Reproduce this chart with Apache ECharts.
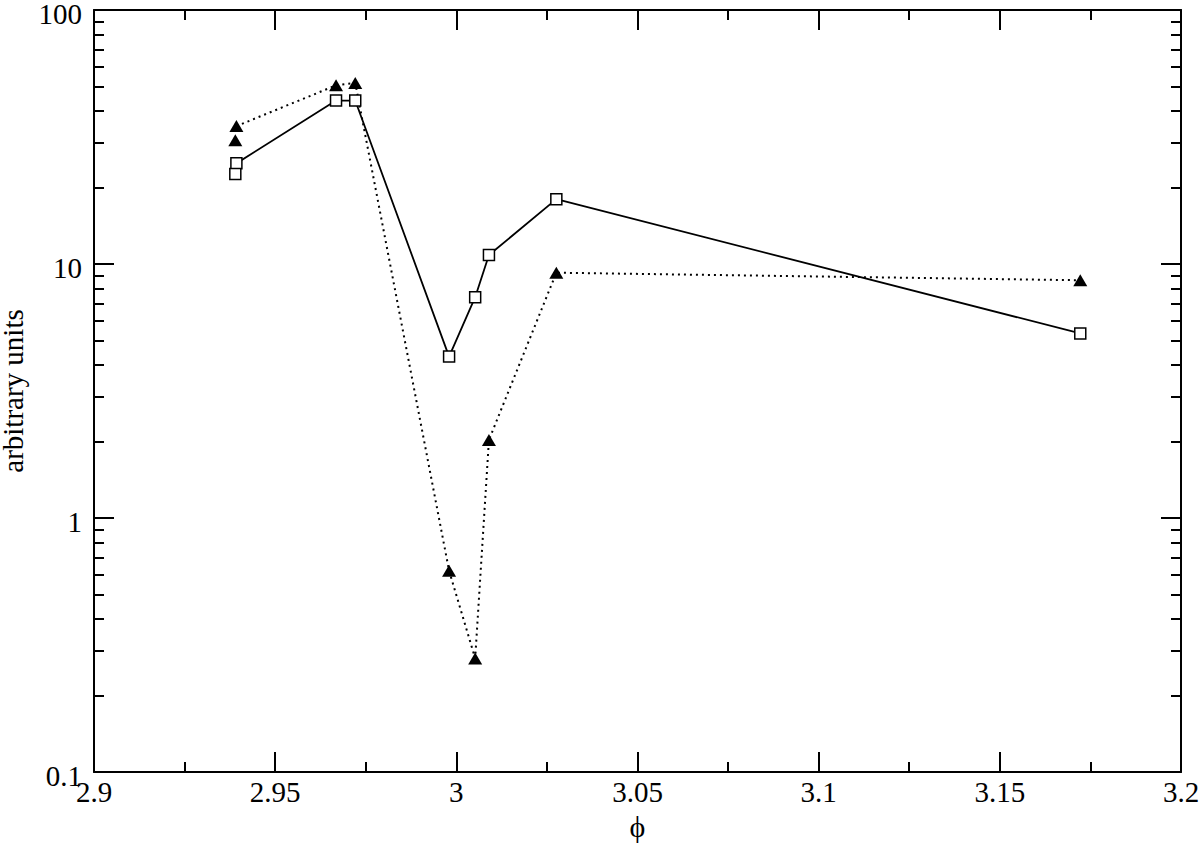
<!DOCTYPE html>
<html>
<head>
<meta charset="utf-8">
<script src="https://cdn.jsdelivr.net/npm/echarts@6/dist/echarts.min.js"></script>
<style>
html,body{margin:0;padding:0;background:#fff;}
#chart{width:1200px;height:844px;}
</style>
</head>
<body>
<div id="chart"></div>
<script>
// ---- data ----
const squareX = [2.9393, 2.9668, 2.9721, 2.9980, 3.0052, 3.0090, 3.0276, 3.1722];
const squareY = [24.9, 44.0, 44.0, 4.32, 7.4, 10.85, 18.0, 5.33];
const squareExtraX = [2.9390];
const squareExtraY = [22.6];
const triX = [2.9393, 2.9668, 2.9721, 2.9980, 3.0052, 3.0090, 3.0276, 3.1722];
const triY = [34.9, 50.5, 51.6, 0.62, 0.28, 2.03, 9.24, 8.63];
const triExtraX = [2.9390];
const triExtraY = [30.7];
const xTicks = ['2.9', '2.95', '3', '3.05', '3.1', '3.15', '3.2'];
const yTicks = ['0.1', '1', '10', '100'];
const yMinorTicks = [0.2,0.3,0.4,0.5,0.6,0.7,0.8,0.9,2,3,4,5,6,7,8,9,20,30,40,50,60,70,80,90];
const xName = 'ϕ';
const yName = 'arbitrary units';

const pairs = (xs, ys) => xs.map((x, i) => [x, ys[i]]);
const FONT = "'Liberation Serif', 'Times New Roman', serif";
const black = '#000';
const FS = 29;

const baseX = {
  type: 'value', min: 2.9, max: 3.2, interval: 0.05,
  axisLine: { show: true, lineStyle: { color: black, width: 2 } },
  axisTick: { show: true, inside: true, length: 20, lineStyle: { color: black, width: 2 } },
  minorTick: { show: true, splitNumber: 2, length: 10, lineStyle: { color: black, width: 2 } },
  splitLine: { show: false }, minorSplitLine: { show: false }
};
const baseY = {
  type: 'log', logBase: 10, min: 0.1, max: 100,
  axisLine: { show: true, lineStyle: { color: black, width: 2 } },
  axisTick: { show: true, inside: true, length: 20, lineStyle: { color: black, width: 2 } },
  splitLine: { show: false }
};
const minorY = {
  type: 'log', logBase: 10, min: 0.1, max: 100,
  axisLine: { show: false },
  axisLabel: { show: false },
  axisTick: { show: true, inside: true, length: 10, customValues: yMinorTicks, lineStyle: { color: black, width: 2 } },
  splitLine: { show: false }
};

const option = {
  backgroundColor: '#fff',
  animation: false,
  grid: { left: 94, right: 19, top: 10, bottom: 72, containLabel: false, outerBoundsMode: 'none' },
  xAxis: [
    Object.assign({}, baseX, {
      position: 'bottom',
      name: xName, nameLocation: 'middle', nameGap: 38,
      nameTextStyle: { color: black, fontFamily: "'Liberation Serif', 'DejaVu Serif', serif", fontSize: 30, lineHeight: 30 },
      axisLabel: {
        show: true, margin: 9, color: black, fontFamily: FONT, fontSize: FS, lineHeight: 22,
        formatter: (v) => { const i = Math.round((v - 2.9) / 0.05); return xTicks[i] !== undefined ? xTicks[i] : ''; }
      }
    }),
    Object.assign({}, baseX, { position: 'top', axisLabel: { show: false } })
  ],
  yAxis: [
    Object.assign({}, baseY, {
      position: 'left',
      name: yName, nameLocation: 'middle', nameGap: 59,
      nameTextStyle: { color: black, fontFamily: FONT, fontSize: FS, lineHeight: 26 },
      axisLabel: {
        show: true, margin: 12, color: black,
        formatter: (v) => { const i = Math.round(Math.log10(v) + 1); return yTicks[i] !== undefined ? '{t|' + yTicks[i] + '}' : ''; },
        rich: { t: { fontFamily: FONT, fontSize: FS, lineHeight: 22, color: black, padding: [8, 0, 0, 0] } }
      }
    }),
    Object.assign({}, baseY, { position: 'right', axisLabel: { show: false } }),
    Object.assign({}, minorY, { position: 'left' }),
    Object.assign({}, minorY, { position: 'right' })
  ],
  series: [
    {
      type: 'line', data: pairs(triX, triY), xAxisIndex: 0, yAxisIndex: 0,
      symbol: 'triangle', symbolSize: [14, 12],
      itemStyle: { color: black, opacity: 1 },
      lineStyle: { color: black, width: 2, type: [2, 4] },
      z: 2
    },
    {
      type: 'scatter', data: pairs(triExtraX, triExtraY), xAxisIndex: 0, yAxisIndex: 0,
      symbol: 'triangle', symbolSize: [14, 12],
      itemStyle: { color: black, opacity: 1 }, z: 2
    },
    {
      type: 'line', data: pairs(squareX, squareY), xAxisIndex: 0, yAxisIndex: 0,
      symbol: 'rect', symbolSize: 11,
      itemStyle: { color: '#fff', borderColor: black, borderWidth: 1.5, opacity: 1 },
      lineStyle: { color: black, width: 1.8 },
      z: 3
    },
    {
      type: 'scatter', data: pairs(squareExtraX, squareExtraY), xAxisIndex: 0, yAxisIndex: 0,
      symbol: 'rect', symbolSize: 11,
      itemStyle: { color: '#fff', borderColor: black, borderWidth: 1.5, opacity: 1 }, z: 3
    }
  ]
};

const chart = echarts.init(document.getElementById('chart'), null, { renderer: 'svg' });
chart.setOption(option);
</script>
</body>
</html>
